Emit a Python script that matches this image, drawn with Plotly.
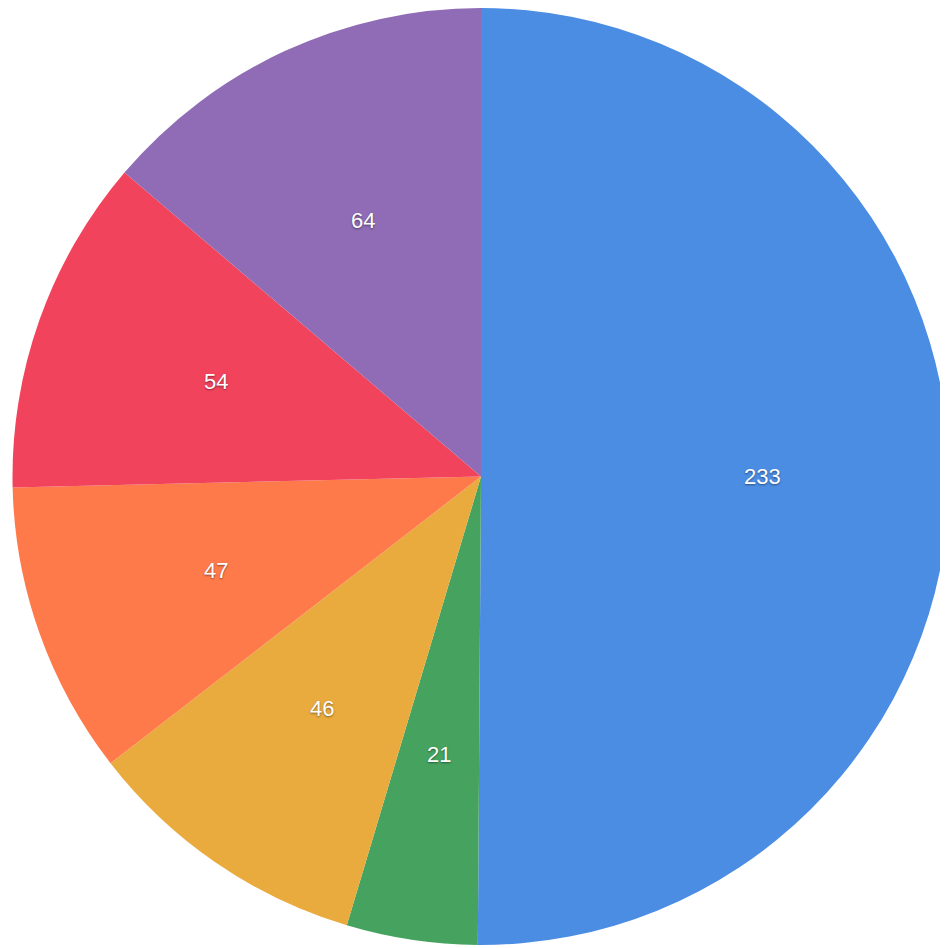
import math
import plotly.graph_objects as go

labels = ["A", "B", "C", "D", "E", "F"]
values = [233, 21, 46, 47, 54, 64]
colors = ["#4B8DE3", "#46A35F", "#E9AB3E", "#FE7A4A", "#F2435D", "#8F6CB5"]

# pie placement (paper fractions); page body adds an 8px offset
OFF = 8
W = 948
cx_px, cy_px, r_px = 481, 476, 469
cx = (cx_px - OFF) / W
cy = 1 - (cy_px - OFF) / W
r = r_px / W

fig = go.Figure(go.Pie(
    labels=labels,
    values=values,
    sort=False,
    direction="clockwise",
    rotation=0,
    textinfo="none",
    marker=dict(colors=colors, line=dict(width=0)),
    hoverinfo="label+value",
    domain=dict(x=[max(0.0, cx - r), cx + r], y=[max(0.0, cy - r), min(1.0, cy + r)]),
))

# value labels at 60% of the radius, at each slice's mid angle
total = sum(values)
cum = 0
annotations = []
for v in values:
    theta = 2 * math.pi * (cum + v / 2) / total
    cum += v
    annotations.append(dict(
        x=cx + 0.6 * r * math.sin(theta),
        y=cy + 0.6 * r * math.cos(theta),
        xref="paper", yref="paper",
        text=str(v), showarrow=False,
        xanchor="center", yanchor="middle",
        font=dict(family="Liberation Sans, Arial", size=22, color="white",
                  shadow="0px 1px 2px rgba(0,0,0,0.45)"),
    ))

fig.update_layout(
    width=948, height=948,
    margin=dict(l=0, r=0, t=0, b=0),
    showlegend=False,
    paper_bgcolor="white",
    annotations=annotations,
)
fig.write_html("out.html")
